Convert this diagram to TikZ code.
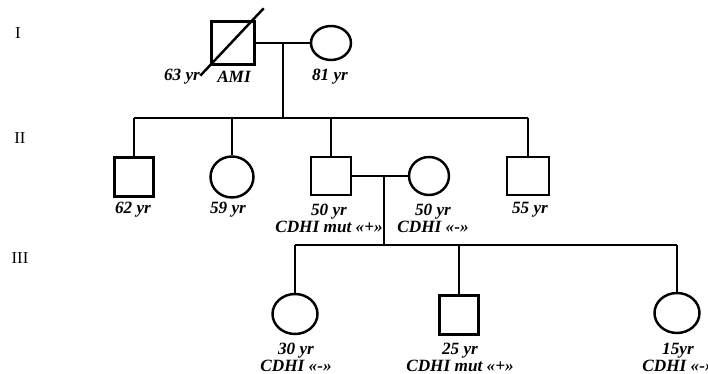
\documentclass[tikz,border=0pt]{standalone}
\usepackage{fontspec}
\setmainfont{Liberation Serif}
\usetikzlibrary{shapes.geometric}
\begin{document}
\begin{tikzpicture}[x=0.02cm, y=-0.02cm, line width=1.4pt,
    male/.style={draw, rectangle, minimum size=0.8cm, inner sep=0pt},
    female/.style={draw, ellipse, minimum width=0.88cm, minimum height=0.8cm, inner sep=0pt},
    age/.style={font=\fontsize{9.8}{9.6}\selectfont\bfseries\itshape, align=center, inner sep=0pt},
    gen/.style={font=\fontsize{9.5}{11}\selectfont, inner sep=0pt}]
    \useasboundingbox (0,0) rectangle (708,374);
    \clip (0,0) rectangle (708,374);

    % Generationen
    \node[gen] (genI) at (18,33) {I};
    \node[gen] (genII) at (20,138) {II};
    \node[gen] (genIII) at (20,258) {III};

    % Generation I
    \node[male, minimum width=0.86cm, minimum height=0.86cm] (I1) at (233,43) {};
    \node[female, minimum width=0.8cm, minimum height=0.68cm] (I2) at (331,43) {};
    \draw ([shift={(-10,10)}]I1.south west) -- ([shift={(8,-12)}]I1.north east);
    \node[age] (lI1) at (182,77) {63 yr};
    \node[age] (lI1b) at (234,77) {AMI};
    \node[age] (lI2) at (330,77) {81 yr};
    \coordinate (mI) at (283,43);
    \coordinate (sII) at (283,118);
    \draw (I1.east) -- (I2.west);
    \draw (mI) -- (sII);

    % Generation II
    \node[male, minimum width=0.78cm, minimum height=0.78cm] (II1) at (134,177) {};
    \node[female, minimum width=0.86cm, minimum height=0.82cm] (II2) at (232,177) {};
    \node[male, minimum width=0.8cm, minimum height=0.76cm] (II3) at (331,176) {};
    \node[female, minimum width=0.8cm, minimum height=0.76cm] (II4) at (429,176) {};
    \node[male, minimum width=0.84cm, minimum height=0.76cm] (II5) at (528,176) {};
    \node[age] (lII1) at (133,210) {62 yr};
    \node[age] (lII2) at (228,210) {59 yr};
    \node[age] (lII3) at (329,218.5) {50 yr\\CDHI mut «+»};
    \node[age] (lII4) at (433,218.5) {50 yr\\CDHI «-»};
    \node[age] (lII5) at (530,210) {55 yr};
    \draw (II1.north |- sII) -- (II5.north |- sII);
    \foreach \c in {II1,II2,II3,II5}
        \draw (\c.north |- sII) -- (\c.north);
    \coordinate (mII) at (384,176);
    \coordinate (sIII) at (384,245);
    \draw (II3.east) -- (II4.west);
    \draw (mII) -- (sIII);

    % Generation III
    \node[female, minimum width=0.9cm] (III1) at (295,314) {};
    \node[male, minimum width=0.78cm, minimum height=0.78cm] (III2) at (459,315) {};
    \node[female, minimum width=0.9cm] (III3) at (677,313) {};
    \node[age] (lIII1) at (296,357) {30 yr\\CDHI «-»};
    \node[age] (lIII2) at (460,357) {25 yr\\CDHI mut «+»};
    \node[age] (lIII3) at (678,357) {15yr\\CDHI «-»};
    \draw (III1.north |- sIII) -- (III3.north |- sIII);
    \foreach \c in {III1,III2,III3}
        \draw (\c.north |- sIII) -- (\c.north);
\end{tikzpicture}
\end{document}
